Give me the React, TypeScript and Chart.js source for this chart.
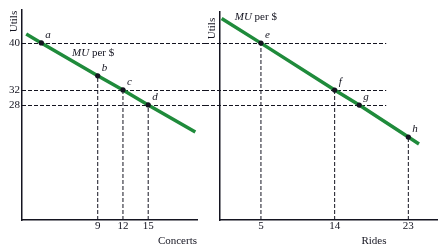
import React, { useEffect, useRef } from 'react';
import { Chart, registerables, LinearScale } from 'chart.js';

Chart.register(...registerables);

// ---------- data ----------
const utilsTicks = [28, 32, 40];

const concertsTicks = [9, 12, 15];
const concertsLineX = [0.5, 2.3, 9, 12, 15, 20.6];
const concertsLineY = [41.5, 40, 34.4, 32, 28, 21.4];
const concertsPointLabels = ['a', 'b', 'c', 'd'];
const concertsPointX = [2.3, 9, 12, 15];
const concertsPointY = [40, 34.4, 32, 28];
const concertsDropLabels = ['b', 'c', 'd'];

const ridesTicks = [5, 14, 23];
const ridesLineX = [0.2, 5, 14, 17, 23, 24.3];
const ridesLineY = [44.2, 40, 32, 28, 20.2, 18.5];
const ridesPointLabels = ['e', 'f', 'g', 'h'];
const ridesPointX = [5, 14, 17, 23];
const ridesPointY = [40, 32, 28, 20.2];
const ridesDropLabels = ['e', 'f', 'h'];

// the utils axis is drawn "not to scale": break points of the axis
const utilsBreakValues = [0, 28, 32, 40, 50];
const utilsBreakHeights = [0, 115, 130, 177, 235.75];

// ---------- styling ----------
const GREEN = '#1f8b3b';
const INK = '#141420';
const SERIF = "'Liberation Serif', 'Times New Roman', serif";

function warp(v: number): number {
  const vs = utilsBreakValues, hs = utilsBreakHeights;
  const n = vs.length;
  let i = 1;
  while (i < n - 1 && v > vs[i]) i++;
  const t = (v - vs[i - 1]) / (vs[i] - vs[i - 1]);
  return hs[i - 1] + t * (hs[i] - hs[i - 1]);
}
function unwarp(h: number): number {
  const vs = utilsBreakValues, hs = utilsBreakHeights;
  const n = hs.length;
  let i = 1;
  while (i < n - 1 && h > hs[i]) i++;
  const t = (h - hs[i - 1]) / (hs[i] - hs[i - 1]);
  return vs[i - 1] + t * (vs[i] - vs[i - 1]);
}

class BrokenScale extends LinearScale {
  static id = 'broken';
  getPixelForValue(value: any) {
    if (value === null || value === undefined || isNaN(value)) return NaN;
    const w0 = warp(this.min), w1 = warp(this.max);
    return this.getPixelForDecimal((warp(value) - w0) / (w1 - w0));
  }
  getValueForPixel(pixel: number) {
    const w0 = warp(this.min), w1 = warp(this.max);
    return unwarp(w0 + this.getDecimalForPixel(pixel) * (w1 - w0));
  }
}
Chart.register(BrokenScale as any);

type PanelOpts = {
  pointX: number[];
  pointY: number[];
  pointLabels: string[];
  dropLabels: string[];
  lineX: number[];
  lineY: number[];
  ticks: number[];
  xMax: number;
  yMax: number;
  showYTicks: boolean;
  padding: { top: number; right: number; left: number; bottom: number };
  yAxisWidth: number;
  refFromCanvasEdge: boolean;
  refEndValue: number | null;
  muX: number;
  muY: number;
  utilsDy: number;
  title: string;
  titleX: number | null;
};

function makeConfig(o: PanelOpts): any {
  const drops = o.dropLabels.map((lab) => {
    const i = o.pointLabels.indexOf(lab);
    return {
      data: [
        { x: o.pointX[i], y: 0 },
        { x: o.pointX[i], y: o.pointY[i] },
      ],
      borderColor: INK,
      borderWidth: 1,
      borderDash: [4, 2],
      pointRadius: 0,
      order: 2,
      clip: false,
    };
  });

  const refPlugin = {
    id: 'refLines',
    beforeDatasetsDraw(chart: any) {
      const { ctx, chartArea, scales } = chart;
      const x0 = o.refFromCanvasEdge ? 0 : chartArea.left;
      const x1 = o.refEndValue === null ? chart.width : scales.x.getPixelForValue(o.refEndValue);
      ctx.save();
      ctx.setLineDash([4, 2]);
      ctx.lineWidth = 1;
      ctx.strokeStyle = INK;
      for (const v of utilsTicks) {
        const py = Math.round(scales.y.getPixelForValue(v)) + 0.5;
        ctx.beginPath();
        ctx.moveTo(x0, py);
        ctx.lineTo(x1, py);
        ctx.stroke();
      }
      ctx.restore();
    },
  };

  const textPlugin = {
    id: 'texts',
    afterDatasetsDraw(chart: any) {
      const { ctx, chartArea, scales } = chart;
      ctx.save();
      ctx.fillStyle = INK;
      ctx.textBaseline = 'alphabetic';
      // point labels
      ctx.font = `italic 11px ${SERIF}`;
      ctx.textAlign = 'left';
      o.pointLabels.forEach((lab, i) => {
        const px = scales.x.getPixelForValue(o.pointX[i]);
        const py = scales.y.getPixelForValue(o.pointY[i]);
        ctx.fillText(lab, px + 4, py - 5);
      });
      // MU per $
      const mx = scales.x.getPixelForValue(o.muX);
      const my = scales.y.getPixelForValue(o.muY);
      ctx.font = `italic 11px ${SERIF}`;
      ctx.fillText('MU', mx, my);
      const w = ctx.measureText('MU').width;
      ctx.font = `11px ${SERIF}`;
      ctx.fillText(' per $', mx + w, my);
      // Utils
      ctx.save();
      ctx.translate(chartArea.left - 8, chartArea.top + o.utilsDy);
      ctx.rotate(-Math.PI / 2);
      ctx.textAlign = 'center';
      ctx.textBaseline = 'middle';
      ctx.font = `11px ${SERIF}`;
      ctx.fillText('Utils', 0, 0);
      ctx.restore();
      // axis title
      ctx.font = `11px ${SERIF}`;
      if (o.titleX === null) {
        ctx.textAlign = 'right';
        ctx.fillText(o.title, chartArea.right, chartArea.bottom + 23.5);
      } else {
        ctx.textAlign = 'center';
        ctx.fillText(o.title, scales.x.getPixelForValue(o.titleX), chartArea.bottom + 23.5);
      }
      ctx.restore();
    },
  };

  return {
    type: 'line',
    data: {
      datasets: [
        {
          data: o.pointX.map((x, i) => ({ x, y: o.pointY[i] })),
          showLine: false,
          pointRadius: 2.6,
          pointBackgroundColor: INK,
          pointBorderWidth: 0,
          order: 0,
          clip: false,
        },
        {
          data: o.lineX.map((x, i) => ({ x, y: o.lineY[i] })),
          borderColor: GREEN,
          borderWidth: 3.5,
          pointRadius: 0,
          tension: 0,
          order: 1,
          clip: false,
        },
        ...drops,
      ],
    },
    options: {
      responsive: false,
      animation: false,
      events: [],
      layout: { padding: o.padding },
      plugins: { legend: { display: false }, tooltip: { enabled: false } },
      scales: {
        x: {
          type: 'linear',
          min: 0,
          max: o.xMax,
          grid: { display: false, drawTicks: false },
          border: { display: true, color: INK, width: 1.5 },
          ticks: {
            autoSkip: false,
            maxRotation: 0,
            padding: 0,
            color: INK,
            font: { family: SERIF, size: 11 },
          },
          afterBuildTicks: (s: any) => {
            s.ticks = o.ticks.map((v) => ({ value: v }));
          },
          afterFit: (s: any) => {
            s.height = 30;
          },
        },
        y: {
          type: 'broken',
          min: 0,
          max: o.yMax,
          grid: { display: false, drawTicks: false },
          border: { display: true, color: INK, width: 1.5 },
          ticks: {
            display: o.showYTicks,
            padding: 2,
            color: INK,
            font: { family: SERIF, size: 11 },
          },
          afterBuildTicks: (s: any) => {
            s.ticks = utilsTicks.map((v) => ({ value: v }));
          },
          afterFit: (s: any) => {
            s.width = o.yAxisWidth;
          },
        },
      },
    },
    plugins: [refPlugin, textPlugin],
  };
}

export default function App() {
  const leftRef = useRef<HTMLCanvasElement>(null);
  const rightRef = useRef<HTMLCanvasElement>(null);

  useEffect(() => {
    const left = new Chart(
      leftRef.current as HTMLCanvasElement,
      makeConfig({
        pointX: concertsPointX,
        pointY: concertsPointY,
        pointLabels: concertsPointLabels,
        dropLabels: concertsDropLabels,
        lineX: concertsLineX,
        lineY: concertsLineY,
        ticks: concertsTicks,
        xMax: 20.8,
        yMax: 45.6,
        showYTicks: true,
        padding: { top: 10, right: 8, left: 0, bottom: 0 },
        yAxisWidth: 22,
        refFromCanvasEdge: false,
        refEndValue: null,
        muX: 5.95,
        muY: 37.7,
        utilsDy: 11.5,
        title: 'Concerts',
        titleX: null,
      })
    );
    const right = new Chart(
      rightRef.current as HTMLCanvasElement,
      makeConfig({
        pointX: ridesPointX,
        pointY: ridesPointY,
        pointLabels: ridesPointLabels,
        dropLabels: ridesDropLabels,
        lineX: ridesLineX,
        lineY: ridesLineY,
        ticks: ridesTicks,
        xMax: 26.5,
        yMax: 45.3,
        showYTicks: false,
        padding: { top: 12, right: 3, left: 0, bottom: 0 },
        yAxisWidth: 15,
        refFromCanvasEdge: true,
        refEndValue: 20.3,
        muX: 1.8,
        muY: 44.0,
        utilsDy: 16.5,
        title: 'Rides',
        titleX: 18.8,
      })
    );
    return () => {
      left.destroy();
      right.destroy();
    };
  }, []);

  return (
    <div style={{ position: 'fixed', left: 0, top: 0, width: 441, height: 250, background: '#fff' }}>
      <canvas
        ref={leftRef}
        width={205}
        height={250}
        style={{ position: 'absolute', left: 0, top: 0, width: 205, height: 250 }}
      />
      <canvas
        ref={rightRef}
        width={236}
        height={250}
        style={{ position: 'absolute', left: 205, top: 0, width: 236, height: 250 }}
      />
    </div>
  );
}
